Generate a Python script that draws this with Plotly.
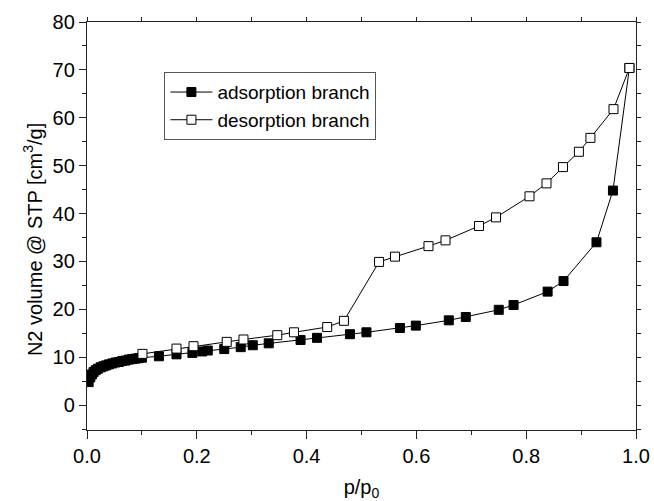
import plotly.graph_objects as go

# Adsorption branch (p/p0, volume cm3/g STP)
ads_p = [0.003, 0.006, 0.009, 0.012, 0.016, 0.020, 0.025, 0.030, 0.035, 0.040,
         0.046, 0.052, 0.058, 0.064, 0.070, 0.076, 0.082, 0.088, 0.094, 0.100,
         0.131, 0.163, 0.192, 0.210, 0.220, 0.250, 0.280, 0.302, 0.331, 0.389,
         0.419, 0.479, 0.509, 0.570, 0.599, 0.659, 0.690, 0.750, 0.777, 0.839,
         0.868, 0.928, 0.958, 0.988]
ads_v = [4.8, 5.8, 6.4, 6.9, 7.3, 7.6, 7.9, 8.1, 8.3, 8.5,
         8.7, 8.9, 9.0, 9.2, 9.3, 9.5, 9.6, 9.7, 9.8, 9.9,
         10.2, 10.6, 10.9, 11.2, 11.4, 11.7, 12.1, 12.5, 12.9, 13.6,
         14.05, 14.8, 15.2, 16.1, 16.6, 17.7, 18.4, 19.9, 20.9, 23.7,
         25.9, 34.0, 44.8, 70.4]

# Desorption branch
des_p = [0.988, 0.959, 0.917, 0.896, 0.867, 0.837, 0.806, 0.745, 0.714, 0.653,
         0.622, 0.561, 0.532, 0.468, 0.4375, 0.377, 0.3466, 0.285, 0.2545, 0.194,
         0.163, 0.101]
des_v = [70.4, 61.8, 55.8, 52.9, 49.7, 46.3, 43.6, 39.2, 37.4, 34.4,
         33.2, 31.0, 29.9, 17.6, 16.3, 15.2, 14.6, 13.7, 13.2, 12.3,
         11.8, 10.7]

x_ticks = [0.0, 0.2, 0.4, 0.6, 0.8, 1.0]
x_ticklabels = ["0.0", "0.2", "0.4", "0.6", "0.8", "1.0"]
y_ticks = [0, 10, 20, 30, 40, 50, 60, 70, 80]

FONT = "Arial, Liberation Sans, sans-serif"
AX = "#222222"

fig = go.Figure()
fig.add_trace(go.Scatter(
    x=ads_p, y=ads_v, mode="lines+markers", name="adsorption branch",
    line=dict(color="black", width=1),
    marker=dict(symbol="square", size=9, color="black",
                line=dict(color="black", width=1)),
))
fig.add_trace(go.Scatter(
    x=des_p, y=des_v, mode="lines+markers", name="desorption branch",
    line=dict(color="black", width=1),
    marker=dict(symbol="square", size=9, color="white",
                line=dict(color="black", width=1)),
))
# empty trace to hold the mirror axes (top/right ticks)
fig.add_trace(go.Scatter(x=[], y=[], xaxis="x2", yaxis="y2",
                         showlegend=False, hoverinfo="skip"))

fig.update_layout(
    width=654, height=501,
    margin=dict(l=87, r=18, t=22, b=71),
    paper_bgcolor="white", plot_bgcolor="white",
    font=dict(family=FONT, size=20, color="black"),
    showlegend=True,
    legend=dict(
        x=0.141, y=0.877, xanchor="left", yanchor="top",
        bgcolor="white", bordercolor="#555555", borderwidth=1,
        font=dict(family=FONT, size=19, color="black"),
        tracegroupgap=0, itemwidth=42,
    ),
    xaxis=dict(
        range=[0, 1], tickvals=x_ticks, ticktext=x_ticklabels,
        ticks="outside", ticklen=8, tickwidth=1.3, tickcolor=AX,
        showline=True, linecolor=AX, linewidth=1.3,
        showgrid=False, zeroline=False, automargin=False,
        minor=dict(dtick=0.1, ticks="outside", ticklen=4, tickwidth=1.2,
                   tickcolor=AX, showgrid=False),
        title=dict(text="p/p<sub>0</sub>", standoff=22,
                   font=dict(family=FONT, size=20)),
        tickfont=dict(family=FONT, size=20),
    ),
    yaxis=dict(
        range=[-5.2, 80], tickvals=y_ticks,
        ticks="outside", ticklen=7, tickwidth=1.3, tickcolor=AX,
        showline=True, linecolor=AX, linewidth=1.3,
        showgrid=False, zeroline=False, automargin=False,
        minor=dict(dtick=5, tick0=0, ticks="outside", ticklen=4, tickwidth=1.2,
                   tickcolor=AX, showgrid=False),
        tickfont=dict(family=FONT, size=20),
    ),
    xaxis2=dict(
        overlaying="x", side="top", anchor="y", range=[0, 1],
        dtick=0.1, tick0=0, ticks="outside", ticklen=4, tickwidth=1.2,
        tickcolor=AX, showticklabels=False, showline=True, linecolor=AX,
        linewidth=1.3, showgrid=False, zeroline=False, automargin=False,
    ),
    yaxis2=dict(
        overlaying="y", side="right", anchor="x", range=[-5.2, 80],
        dtick=5, tick0=0, ticks="outside", ticklen=4, tickwidth=1.2,
        tickcolor=AX, showticklabels=False, showline=True, linecolor=AX,
        linewidth=1.3, showgrid=False, zeroline=False, automargin=False,
    ),
    annotations=[dict(
        text="N2 volume @ STP [cm<sup>3</sup>/g]", textangle=-90,
        xref="paper", yref="paper", x=-0.098, y=0.466,
        xanchor="center", yanchor="middle", showarrow=False,
        font=dict(family=FONT, size=20, color="black"),
    )],
)

fig.write_html("out.html")
